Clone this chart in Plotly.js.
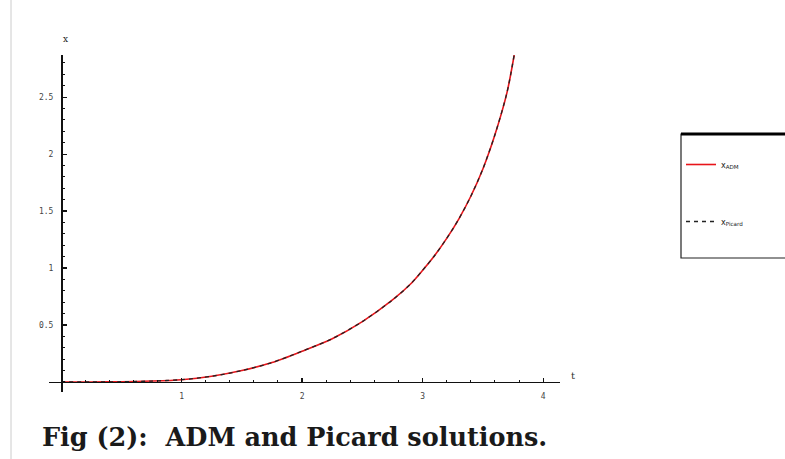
<!DOCTYPE html>
<html>
<head>
<meta charset="utf-8">
<script src="https://cdn.plot.ly/plotly-3.0.1.min.js"></script>
<style>html,body{margin:0;padding:0;background:#fff;}#plot{width:785px;height:459px;}</style>
</head>
<body>
<div id="plot"></div>
<script>
// Data
const tValues = [0, 0.25, 0.5, 0.75, 1, 1.25, 1.5, 1.75, 2, 2.25, 2.5, 2.75, 2.9, 3, 3.1, 3.2, 3.3, 3.4, 3.5, 3.6, 3.7, 3.76];
const xADM    = [0, 0, 0.002, 0.008, 0.02, 0.05, 0.10, 0.17, 0.27, 0.38, 0.53, 0.72, 0.86, 0.98, 1.11, 1.26, 1.43, 1.63, 1.87, 2.17, 2.54, 2.87];
const xPicard = [0, 0, 0.002, 0.008, 0.02, 0.05, 0.10, 0.17, 0.27, 0.38, 0.53, 0.72, 0.86, 0.98, 1.11, 1.26, 1.43, 1.63, 1.87, 2.17, 2.54, 2.87];
const xTickVals = [1, 2, 3, 4];
const xTickText = ["1", "2", "3", "4"];
const yTickVals = [0.5, 1, 1.5, 2, 2.5];
const yTickText = ["0.5", "1", "1.5", "2", "2.5"];
const seriesNames = ["x<sub>ADM</sub>", "x<sub>Picard</sub>"];
const caption = "Fig (2):  ADM and Picard solutions.";

const xRange = [-0.1, 4.14];
const yRange = [-0.088, 2.87];

const traces = [
  {x: tValues, y: xADM, type: 'scatter', mode: 'lines', name: seriesNames[0],
   line: {color: '#e8141a', width: 1.6, shape: 'spline', smoothing: 0.8}, legendgroup: 'a'},
  {x: tValues, y: xPicard, type: 'scatter', mode: 'lines', name: seriesNames[1],
   line: {color: '#222', width: 1.3, dash: '4px,4px', shape: 'spline', smoothing: 0.8}, legendgroup: 'b'}
];

const tickFont = {family: 'DejaVu Sans Mono, monospace', size: 8, color: '#444'};

const layout = {
  width: 785, height: 459,
  margin: {l: 49, r: 225, t: 55, b: 67},
  paper_bgcolor: '#fff', plot_bgcolor: '#fff',
  showlegend: true,
  xaxis: {
    range: xRange, anchor: 'free', position: (0 - yRange[0]) / (yRange[1] - yRange[0]),
    showgrid: false, zeroline: false, showline: true, linecolor: '#111', linewidth: 1.5,
    tickmode: 'array', tickvals: xTickVals, ticktext: xTickText,
    ticks: 'inside', ticklen: 4, tickwidth: 1.2, tickcolor: '#111',
    minor: {ticks: 'inside', dtick: 0.2, ticklen: 2, tickwidth: 1, tickcolor: '#111'},
    tickfont: tickFont, ticklabelstandoff: 6
  },
  yaxis: {
    range: yRange, anchor: 'free', position: (0 - xRange[0]) / (xRange[1] - xRange[0]),
    showgrid: false, zeroline: false, showline: true, linecolor: '#111', linewidth: 1.5,
    tickmode: 'array', tickvals: yTickVals, ticktext: yTickText,
    ticks: 'inside', ticklen: 4, tickwidth: 1.2, tickcolor: '#111',
    minor: {ticks: 'inside', dtick: 0.1, ticklen: 2, tickwidth: 1, tickcolor: '#111'},
    tickfont: tickFont, ticklabelstandoff: 6
  },
  legend: {
    x: (681 - 49) / 511, y: (392 - 150) / 337, xanchor: 'left', yanchor: 'top',
    bgcolor: 'rgba(0,0,0,0)', borderwidth: 0,
    font: {family: 'DejaVu Sans', size: 8, color: '#222'},
    traceorder: 'grouped', tracegroupgap: 38, itemwidth: 30
  },
  shapes: [
    {type: 'line', xref: 'paper', yref: 'paper', x0: (11 - 49) / 511, x1: (11 - 49) / 511,
     y0: (392 - 459) / 337, y1: (392 - 0) / 337, line: {color: '#ccc', width: 1}},
    {type: 'rect', xref: 'paper', yref: 'paper', x0: (681 - 49) / 511, x1: (790 - 49) / 511,
     y0: (392 - 258) / 337, y1: (392 - 134) / 337, line: {color: '#222', width: 1.2}},
    {type: 'line', xref: 'paper', yref: 'paper', x0: (681 - 49) / 511, x1: (790 - 49) / 511,
     y0: (392 - 134) / 337, y1: (392 - 134) / 337, line: {color: '#000', width: 3}}
  ],
  annotations: [
    {text: 'x', xref: 'paper', yref: 'paper', x: (61 - 49) / 511, y: (392 - 32) / 337,
     showarrow: false, font: {family: 'DejaVu Serif', size: 9, color: '#222'}},
    {text: 't', xref: 'paper', yref: 'paper', x: (577 - 49) / 511, y: (392 - 383) / 337,
     showarrow: false, font: {family: 'DejaVu Serif', size: 10, color: '#333'}},
    {text: '<b>' + caption + '</b>', xref: 'paper', yref: 'paper', x: (40 - 49) / 511, y: (392 - 437) / 337,
     xanchor: 'left', yanchor: 'middle', showarrow: false,
     font: {family: 'DejaVu Serif', size: 25.5, color: '#1a1a1a'}}
  ]
};

Plotly.newPlot('plot', traces, layout, {displayModeBar: false, staticPlot: true});
</script>
</body>
</html>
